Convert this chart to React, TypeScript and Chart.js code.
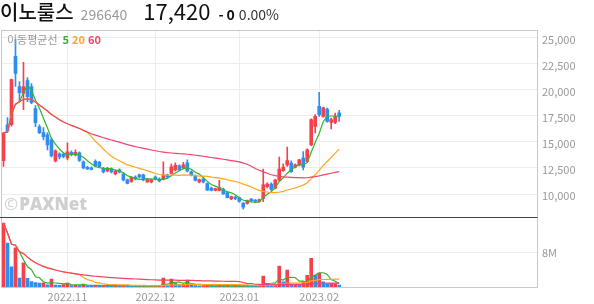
import { useEffect, useRef } from 'react';
import { Chart, registerables } from 'chart.js';

Chart.register(...registerables);

// ---- data ----
const SLOT_COUNT = 134; // trading-day slots on the x axis (data fills the first 85)
const opens = [13200, 16630, 16630, 23170, 20290, 19620, 20870, 20290, 18170, 16440, 15870, 15670, 15190, 13170, 13850, 13800, 13460, 13990, 13750, 13940, 13080, 12550, 12500, 13120, 13030, 12450, 12210, 12400, 11920, 12310, 11920, 11350, 11200, 11630, 11830, 11830, 11150, 11150, 11630, 11440, 11390, 11830, 11970, 12310, 12690, 12500, 12980, 12120, 11730, 11150, 11440, 11010, 10580, 10340, 10340, 10480, 10140, 9520, 9710, 9660, 9130, 9090, 9520, 9420, 9280, 9590, 10700, 10960, 10550, 11350, 12240, 12790, 12950, 12570, 12790, 13430, 13110, 14710, 16470, 18390, 17430, 18140, 16860, 16860, 17760];
const highs = [15850, 17310, 21000, 24800, 20770, 22600, 21150, 20580, 18460, 16630, 16350, 15870, 15380, 14230, 13940, 13940, 14900, 14130, 14230, 14040, 13170, 12640, 12600, 13270, 13120, 12550, 12550, 12500, 12310, 12400, 12020, 11440, 11630, 11730, 11920, 11920, 11440, 11440, 11730, 11540, 13080, 11920, 12880, 12980, 12790, 13030, 13270, 12210, 11830, 11440, 11540, 11060, 10670, 10580, 11300, 10580, 10190, 9810, 9810, 9710, 9180, 9420, 9570, 9470, 9520, 12380, 11060, 11060, 11390, 13530, 12900, 14490, 13170, 12880, 13320, 14070, 14330, 17200, 17600, 19740, 18320, 18220, 17280, 17740, 18010];
const lows = [12650, 15870, 16500, 20290, 18850, 18080, 18850, 18650, 16440, 15770, 15190, 14230, 13560, 13080, 13370, 13460, 13270, 13650, 13650, 13120, 12400, 12360, 12310, 12600, 12550, 12020, 12120, 12020, 11830, 12020, 11250, 10960, 11110, 11350, 11540, 11250, 11110, 11060, 11350, 11150, 11350, 11540, 11920, 12210, 12210, 12400, 12120, 11730, 11250, 11060, 11060, 10340, 10290, 10290, 10290, 9950, 9620, 9470, 9470, 9230, 8560, 9040, 9230, 9230, 9230, 9260, 10580, 10340, 10480, 11250, 12160, 12640, 12070, 12500, 12690, 12310, 13030, 14620, 15840, 17430, 17360, 16870, 16220, 16730, 16950];
const closes = [15850, 16060, 20960, 21540, 19710, 20290, 19330, 18750, 16830, 15870, 15480, 14710, 13650, 14130, 13560, 13600, 14040, 13800, 13990, 13220, 12500, 12400, 12360, 12690, 12640, 12120, 12450, 12120, 12160, 12120, 11350, 11010, 11590, 11440, 11630, 11350, 11390, 11350, 11440, 11250, 11830, 11630, 12600, 12740, 12310, 12790, 12210, 11830, 11300, 11390, 11150, 10380, 10340, 10530, 10630, 10000, 9660, 9760, 9570, 9280, 8750, 9380, 9330, 9280, 9470, 10870, 10960, 10450, 11350, 12380, 12570, 13200, 12140, 12790, 13270, 12570, 14230, 17120, 17430, 17600, 18240, 16950, 17120, 17420, 17420];
const volumesM = [14.7, 10.1, 4.65, 9.0, 2.06, 5.56, 1.98, 1.22, 0.99, 0.91, 0.95, 0.5, 1.8, 0.45, 0.4, 0.55, 0.9, 0.35, 0.4, 0.3, 0.7, 0.3, 0.25, 0.4, 0.3, 0.35, 0.3, 0.25, 0.4, 0.3, 0.35, 0.3, 0.25, 0.2, 0.25, 0.2, 0.25, 0.2, 0.25, 0.3, 2.06, 0.4, 1.83, 0.9, 0.5, 0.6, 1.6, 0.4, 0.3, 0.25, 0.3, 0.35, 0.25, 0.2, 0.3, 0.25, 0.3, 0.2, 0.25, 0.2, 0.35, 0.3, 0.25, 0.2, 0.3, 2.5, 0.8, 0.5, 0.7, 4.8, 1.2, 3.9, 0.5, 0.55, 0.5, 1.2, 2.7, 6.6, 2.7, 3.2, 1.2, 0.72, 0.76, 0.8, 0.46];
const monthTickIndex = [16, 38, 59, 79];
const monthTickLabels = ['2022.11', '2022.12', '2023.01', '2023.02'];
const priceTicks = [10000, 12500, 15000, 17500, 20000, 22500, 25000];
const volumeTicks = [8000000];
const maPeriods = [5, 20, 60];

// ---- styles ----
const UP = '#f5414b';
const DOWN = '#2e8df2';
const MA_COLORS = ['#2fb52f', '#ffa61c', '#f2446a'];
const FONT = "'Noto Sans CJK KR', 'Noto Sans', sans-serif";

function movingAverage(src: number[], n: number): number[] {
  return src.map((_, i) => {
    const s = Math.max(0, i - n + 1);
    let sum = 0;
    for (let k = s; k <= i; k++) sum += src[k];
    return sum / (i - s + 1);
  });
}

function pad<T>(arr: T[]): (T | null)[] {
  return [...arr, ...Array(SLOT_COUNT - arr.length).fill(null)];
}

const framePlugin = {
  id: 'frame',
  afterDraw(chart: any) {
    const { ctx, chartArea: a, scales } = chart;
    const sepY = Math.round(Math.min(scales.y.bottom, scales.yv.bottom)) + 0.5;
    const l = Math.floor(a.left) + 0.5;
    const t = Math.round(a.top) + 0.5;
    const r = Math.round(a.right) + 0.5;
    const b = Math.round(a.bottom) + 0.5;
    ctx.save();
    ctx.lineWidth = 1;
    ctx.strokeStyle = '#c9c9c9';
    ctx.strokeRect(l, t, r - l, b - t);
    ctx.strokeStyle = '#444';
    ctx.beginPath();
    ctx.moveTo(0, sepY);
    ctx.lineTo(r, sepY);
    ctx.stroke();
    ctx.restore();
  },
};

export default function App() {
  const ref = useRef<HTMLCanvasElement>(null);

  useEffect(() => {
    const canvas = ref.current;
    if (!canvas) return;
    const labels = Array.from({ length: SLOT_COUNT }, (_, i) => String(i));
    const volumes = volumesM.map((v) => v * 1e6);
    const candleColors = closes.map((c, i) => (c >= opens[i] ? UP : DOWN));
    const volColors = volumes.map((v, i) => (i === 0 || v >= volumes[i - 1] ? UP : DOWN));
    const wicks = lows.map((l, i) => [l, highs[i]]);
    const bodies = opens.map((o, i) => [Math.min(o, closes[i]), Math.max(o, closes[i])]);

    const priceMA = maPeriods.map((p, k) => ({
      type: 'line' as const,
      label: 'p' + p,
      data: pad(movingAverage(closes, p)),
      borderColor: MA_COLORS[k],
      borderWidth: 1.2,
      pointRadius: 0,
      yAxisID: 'y',
      order: 3 - k,
    }));
    const volMA = maPeriods.map((p, k) => ({
      type: 'line' as const,
      label: 'v' + p,
      data: pad(movingAverage(volumes, p)),
      borderColor: MA_COLORS[k],
      borderWidth: 1.2,
      pointRadius: 0,
      yAxisID: 'yv',
      order: 3 - k,
    }));

    const chart = new Chart(canvas, {
      type: 'bar',
      data: {
        labels,
        datasets: [
          ...priceMA,
          ...volMA,
          {
            type: 'bar',
            label: 'body',
            data: pad(bodies) as any,
            backgroundColor: candleColors,
            barThickness: 3,
            minBarLength: 1,
            grouped: false,
            yAxisID: 'y',
            order: 10,
          },
          {
            type: 'bar',
            label: 'wick',
            data: pad(wicks) as any,
            backgroundColor: candleColors,
            barThickness: 1,
            grouped: false,
            yAxisID: 'y',
            order: 11,
          },
          {
            type: 'bar',
            label: 'vol',
            data: pad(volumes) as any,
            backgroundColor: volColors,
            barThickness: 3,
            grouped: false,
            yAxisID: 'yv',
            order: 10,
          },
        ] as any,
      },
      options: {
        animation: false,
        responsive: false,
        maintainAspectRatio: false,
        events: [],
        layout: { padding: { left: 1.5, top: 30, right: 0, bottom: 0 } },
        plugins: { legend: { display: false }, tooltip: { enabled: false } },
        scales: {
          x: {
            type: 'category',
            offset: true,
            grid: { offset: false, color: '#ededed', drawTicks: false },
            border: { display: false },
            ticks: {
              autoSkip: false,
              maxRotation: 0,
              padding: 3,
              color: '#999',
              font: { size: 11, family: FONT },
              callback: (_v: any, i: number) => monthTickLabels[i],
            },
            afterBuildTicks: (s: any) => {
              s.ticks = monthTickIndex.map((v) => ({ value: v }));
            },
            afterFit: (s: any) => {
              s.height = 17;
            },
          },
          y: {
            type: 'linear',
            position: 'right',
            stack: 'panels',
            stackWeight: 187,
            min: 7800,
            max: 25700,
            grid: { color: '#ededed', drawTicks: false },
            border: { display: false },
            ticks: {
              padding: 5,
              labelOffset: 2,
              color: '#999',
              font: { size: 11, family: FONT },
              callback: (v: any) => Number(v).toLocaleString('en-US'),
            },
            afterBuildTicks: (s: any) => {
              s.ticks = priceTicks.map((v) => ({ value: v }));
            },
            afterFit: (s: any) => {
              s.width = 57;
            },
          },
          yv: {
            type: 'linear',
            position: 'right',
            stack: 'panels',
            stackWeight: 70,
            min: 0,
            max: 16100000,
            grid: { color: '#ededed', drawTicks: false },
            border: { display: false },
            ticks: {
              padding: 5,
              labelOffset: 1,
              color: '#999',
              font: { size: 11, family: FONT },
              callback: (v: any) => Number(v) / 1e6 + 'M',
            },
            afterBuildTicks: (s: any) => {
              s.ticks = volumeTicks.map((v) => ({ value: v }));
            },
            afterFit: (s: any) => {
              s.width = 57;
            },
          },
        },
      } as any,
      plugins: [framePlugin],
    });
    return () => chart.destroy();
  }, []);

  return (
    <div style={{ position: 'fixed', left: 0, top: 0, width: 594, height: 304, background: '#fff', overflow: 'hidden', fontFamily: FONT }}>
      <canvas ref={ref} width={594} height={304} style={{ position: 'absolute', left: 0, top: 0, width: 594, height: 304 }} />
      <div style={{ position: 'absolute', left: 0, top: -3, display: 'flex', alignItems: 'baseline', whiteSpace: 'nowrap', lineHeight: 1.2 }}>
        <span style={{ fontSize: 20, fontWeight: 500, color: '#111' }}>이노룰스</span>
        <span style={{ fontSize: 14, color: '#999', marginLeft: 7 }}>296640</span>
        <span style={{ fontSize: 22, color: '#111', marginLeft: 16 }}>17,420</span>
        <span style={{ fontSize: 14, fontWeight: 700, color: '#111', marginLeft: 8 }}>-</span>
        <span style={{ fontSize: 14, fontWeight: 700, color: '#111', marginLeft: 3 }}>0</span>
        <span style={{ fontSize: 14, color: '#333', marginLeft: 4 }}>0.00%</span>
      </div>
      <div style={{ position: 'absolute', left: 7, top: 33, display: 'flex', alignItems: 'baseline', whiteSpace: 'nowrap', fontSize: 11, lineHeight: 1.2 }}>
        <span style={{ color: '#999' }}>이동평균선</span>
        <span style={{ color: MA_COLORS[0], fontWeight: 700, marginLeft: 5 }}>5</span>
        <span style={{ color: MA_COLORS[1], fontWeight: 700, marginLeft: 3 }}>20</span>
        <span style={{ color: MA_COLORS[2], fontWeight: 700, marginLeft: 3 }}>60</span>
      </div>
      <div style={{ position: 'absolute', left: 4, top: 194, whiteSpace: 'nowrap', color: '#cfcfcf', fontSize: 17, lineHeight: 1.2, fontFamily: "'Open Sans', 'Noto Sans', sans-serif" }}>
        <span>©</span>
        <span style={{ fontWeight: 800, marginLeft: 1 }}>PAXNet</span>
      </div>
    </div>
  );
}
